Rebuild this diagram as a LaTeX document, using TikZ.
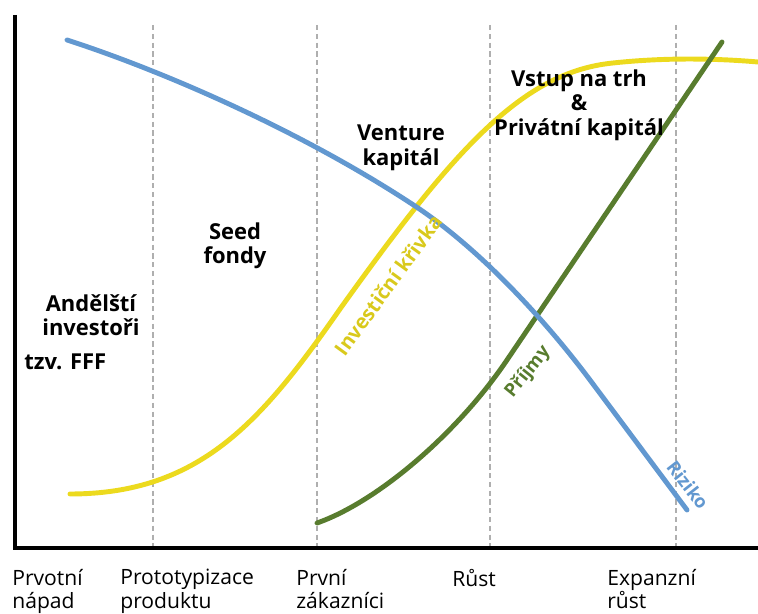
\documentclass[tikz,border=0pt]{standalone}
\usepackage{fontspec}
\setmainfont{Open Sans}
\definecolor{riskblue}{RGB}{98,152,208}
\definecolor{invyellow}{RGB}{236,218,30}
\definecolor{revgreen}{RGB}{88,124,46}
\definecolor{stagegray}{RGB}{175,175,175}

\begin{document}
\begin{tikzpicture}[
    x=0.02cm, y=-0.02cm,
    every node/.style={inner sep=0pt},
    fund/.style={align=center, font=\fontsize{12.5}{14}\selectfont\bfseries},
    stage/.style={anchor=north west, align=left, font=\fontsize{12}{13.2}\selectfont},
    curve/.style={line width=2.8pt, line cap=round},
    tag/.style={font=\fontsize{10.5}{12}\selectfont\bfseries},
  ]
  \useasboundingbox (0,0) rectangle (758,614);

  \foreach \x in {153, 317, 490, 676}
    \draw[stagegray, line width=0.8pt, dash pattern=on 3pt off 2pt] (\x,25) -- (\x,546);
  \draw[line width=2.3pt] (15,15) -- (15,548) -- (758,548);

  % investicni krivka, prijmy, riziko
  \draw[curve, invyellow] (70,494) .. controls (200,494) and (262,421) .. (340,309)
    .. controls (455,148) and (523,72) .. (613,63)
    .. controls (650,59) and (700,57) .. (758,62);
  \draw[curve, revgreen] (317,523) .. controls (377,502) and (457,434) .. (507,360) -- (722,42);
  \draw[curve, riskblue] (67,40) .. controls (160,70) and (300,130) .. (415,206)
    .. controls (480,249) and (545,320) .. (590,380) -- (687,510);

  \node[fund] (ffs) at (91,315) {Andělští \\ investoři};
  \node[fund, anchor=west] (fff) at (24,362) {tzv. FFF};
  \node[fund] (seed) at (235,246) {Seed \\ fondy};
  \node[fund] (vc) at (401,148) {Venture \\ kapitál};
  \node[fund] (ipo) at (579,105) {Vstup na trh \\ \& \\ Privátní kapitál};

  \node[tag, invyellow!92!black, rotate=54, font=\fontsize{11.5}{13}\selectfont\bfseries] (inv) at (388,285) {Investiční křivka};
  \node[tag, revgreen, rotate=51] (rev) at (528,372) {Příjmy};
  \node[tag, riskblue, rotate=-52] (risk) at (688,485) {Riziko};

  \node[stage] (s1) at (12,569) {Prvotní \\ nápad};
  \node[stage] (s2) at (120,569) {Prototypizace \\ produktu};
  \node[stage] (s3) at (296,569) {První \\ zákazníci};
  \node[stage] (s4) at (452,569) {Růst};
  \node[stage] (s5) at (607,569) {Expanzní \\ růst};
\end{tikzpicture}
\end{document}
